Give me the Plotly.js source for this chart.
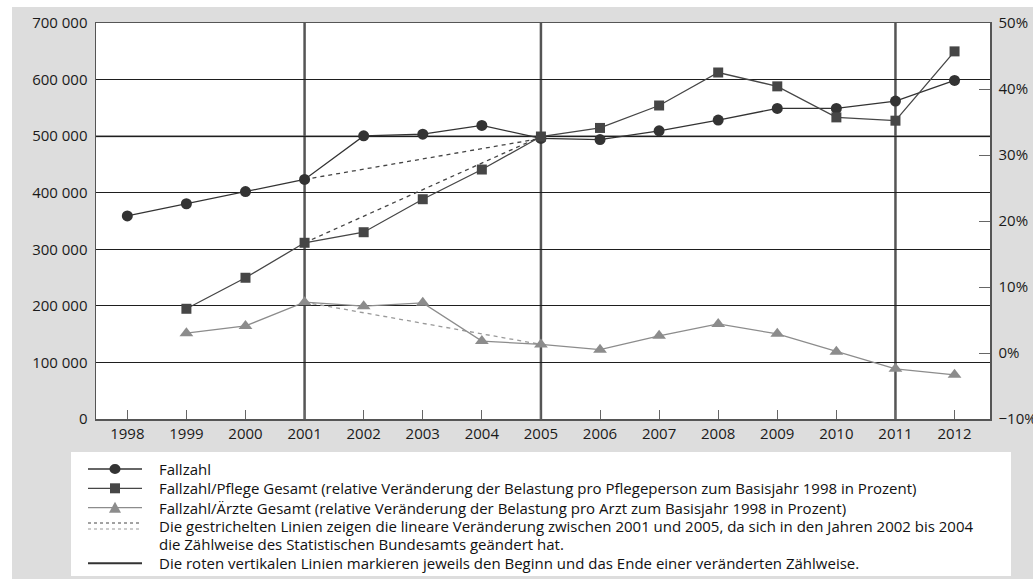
<!DOCTYPE html>
<html><head><meta charset="utf-8">
<script src="https://cdn.plot.ly/plotly-3.0.1.min.js"></script>
<style>html,body{margin:0;padding:0;background:#fff}</style>
</head><body><div id="chart" style="width:1033px;height:579px"></div>
<script>
// ---- data ----
const years = [1998,1999,2000,2001,2002,2003,2004,2005,2006,2007,2008,2009,2010,2011,2012];
const fallzahl = [359000,380500,402000,423500,500500,503500,519000,496000,494000,509500,528500,549000,549000,562000,598500];
const pctYears = [1999,2000,2001,2002,2003,2004,2005,2006,2007,2008,2009,2010,2011,2012];
const pflege = [6.7,11.4,16.7,18.3,23.3,27.8,32.8,34.1,37.5,42.5,40.4,35.7,35.2,45.7];
const aerzte = [3.0,4.1,7.7,7.1,7.6,1.8,1.3,0.5,2.6,4.4,2.9,0.2,-2.4,-3.3];
const breakYears = [2001,2005,2011];
const dashFrom = 2001, dashTo = 2005;
const highlightLevel = 500000;
const leftTickVals = [0,100000,200000,300000,400000,500000,600000,700000];
const leftTickText = ['0','100 000','200 000','300 000','400 000','500 000','600 000','700 000'];
const rightTickVals = [-10,0,10,20,30,40,50];
const rightTickText = ['\u221210%','0%','10%','20%','30%','40%','50%'];
const legendTexts = [
  'Fallzahl',
  'Fallzahl/Pflege Gesamt (relative Veränderung der Belastung pro Pflegeperson zum Basisjahr 1998 in Prozent)',
  'Fallzahl/Ärzte Gesamt (relative Veränderung der Belastung pro Arzt zum Basisjahr 1998 in Prozent)',
  'Die gestrichelten Linien zeigen die lineare Veränderung zwischen 2001 und 2005, da sich in den Jahren 2002 bis 2004',
  'die Zählweise des Statistischen Bundesamts geändert hat.',
  'Die roten vertikalen Linien markieren jeweils den Beginn und das Ende einer veränderten Zählweise.'
];

// ---- layout helpers ----
const W = 1033, H = 579, L = 96, R = 990, T = 23, B = 419;
const px = x => (x - L) / (R - L);
const py = y => (B - y) / (B - T);
const FONT = 'Open Sans, Liberation Sans, sans-serif';
const cCirc = '#333333', cSq = '#464646', cTri = '#8c8c8c';

function pick(xs, ys, a, b) { return [ys[xs.indexOf(a)], ys[xs.indexOf(b)]]; }

const traces = [
  {x:[dashFrom,dashTo], y:pick(years,fallzahl,dashFrom,dashTo), yaxis:'y', mode:'lines',
   line:{color:'#444', width:1.3, dash:'4px,4px'}, hoverinfo:'skip'},
  {x:[dashFrom,dashTo], y:pick(pctYears,pflege,dashFrom,dashTo), yaxis:'y2', mode:'lines',
   line:{color:'#444', width:1.3, dash:'4px,4px'}, hoverinfo:'skip'},
  {x:[dashFrom,dashTo], y:pick(pctYears,aerzte,dashFrom,dashTo), yaxis:'y2', mode:'lines',
   line:{color:'#999', width:1.3, dash:'4px,4px'}, hoverinfo:'skip'},
  {x:pctYears, y:aerzte, yaxis:'y2', mode:'lines+markers', name:'Fallzahl/Ärzte Gesamt',
   line:{color:cTri, width:1.3}, marker:{symbol:'triangle-up', size:12, color:cTri}},
  {x:pctYears, y:pflege, yaxis:'y2', mode:'lines+markers', name:'Fallzahl/Pflege Gesamt',
   line:{color:cSq, width:1.3}, marker:{symbol:'square', size:10, color:cSq}},
  {x:years, y:fallzahl, yaxis:'y', mode:'lines+markers', name:'Fallzahl',
   line:{color:cCirc, width:1.3}, marker:{symbol:'circle', size:11, color:cCirc}}
];

const shapes = [];
// white surroundings and legend box (gray paper background)
shapes.push({type:'rect', xref:'paper', yref:'paper', x0:px(0), x1:px(W), y0:py(0), y1:py(7), fillcolor:'#fff', line:{width:0}, layer:'below'});
shapes.push({type:'rect', xref:'paper', yref:'paper', x0:px(0), x1:px(12), y0:py(0), y1:py(H), fillcolor:'#fff', line:{width:0}, layer:'below'});
shapes.push({type:'rect', xref:'paper', yref:'paper', x0:px(71), x1:px(1011), y0:py(452), y1:py(576), fillcolor:'#fff', line:{width:0}, layer:'below'});
// highlighted 500 000 gridline
shapes.push({type:'line', xref:'paper', yref:'y', x0:0, x1:1, y0:highlightLevel, y1:highlightLevel, line:{color:'#7a7a7a', width:2}, layer:'between'});
// vertical break lines
breakYears.forEach(yr => shapes.push({type:'line', xref:'x', yref:'paper', x0:yr, x1:yr, y0:0, y1:1, line:{color:'#555', width:2.5}, layer:'between'}));

// legend symbols
const rows = [469, 488.3, 507.7, 526, 544.3, 563.3];
const sx0 = 88, sx1 = 142, sxm = 115;
function hline(y, color, width, dash) {
  shapes.push({type:'line', xref:'paper', yref:'paper', x0:px(sx0), x1:px(sx1), y0:py(y), y1:py(y), line:{color, width, dash}});
}
hline(rows[0], cCirc, 1.3); hline(rows[1], cSq, 1.3); hline(rows[2], cTri, 1.3);
hline(rows[3]-3, '#444', 1, '3px,3px'); hline(rows[3]+3, '#999', 1, '3px,3px');
hline(rows[5], '#333', 2);
shapes.push({type:'circle', xref:'paper', yref:'paper', xsizemode:'pixel', ysizemode:'pixel', xanchor:px(sxm), yanchor:py(rows[0]), x0:-5.5, x1:5.5, y0:-5, y1:5, fillcolor:cCirc, line:{width:0}});
shapes.push({type:'rect', xref:'paper', yref:'paper', xsizemode:'pixel', ysizemode:'pixel', xanchor:px(sxm), yanchor:py(rows[1]), x0:-5, x1:5, y0:-5, y1:5, fillcolor:cSq, line:{width:0}});
shapes.push({type:'path', xref:'paper', yref:'paper', xsizemode:'pixel', ysizemode:'pixel', xanchor:px(sxm), yanchor:py(rows[2]), path:'M -6 -5 L 6 -5 L 0 6 Z', fillcolor:cTri, line:{width:0}});

const annotations = legendTexts.map((t, i) => ({
  xref:'paper', yref:'paper', x:px(157), y:py(rows[i]), xanchor:'left', yanchor:'middle',
  text:t, showarrow:false, font:{family:FONT, size:15, color:'#111'}
}));

const layout = {
  width:W, height:H,
  margin:{l:L, r:W-R, t:T, b:H-B, pad:0},
  paper_bgcolor:'#dddddd', plot_bgcolor:'#ffffff',
  showlegend:false,
  font:{family:FONT, size:15, color:'#1a1a1a'},
  xaxis:{range:[1997.47, 2012.6], tickvals:years, ticktext:years.map(String),
    ticks:'inside', ticklen:9, tickcolor:'#666', tickwidth:1,
    showgrid:false, zeroline:false, showline:true, mirror:true, linecolor:'#555', linewidth:1.5,
    tickfont:{family:FONT, size:15, color:'#1a1a1a'}},
  yaxis:{range:[0,700000], tickvals:leftTickVals, ticktext:leftTickText, ticks:'',
    showgrid:true, gridcolor:'#1e1e1e', gridwidth:1, zeroline:false,
    showline:true, linecolor:'#555', linewidth:1.5, ticklabelstandoff:4,
    tickfont:{family:FONT, size:15, color:'#1a1a1a'}},
  yaxis2:{range:[-10,50], overlaying:'y', side:'right', tickvals:rightTickVals, ticktext:rightTickText,
    ticks:'inside', ticklen:11, tickcolor:'#666', tickwidth:1, showgrid:false, zeroline:false,
    showline:true, linecolor:'#555', linewidth:1.5, ticklabelstandoff:4,
    tickfont:{family:FONT, size:15, color:'#1a1a1a'}},
  shapes, annotations
};

Plotly.newPlot('chart', traces, layout, {displayModeBar:false, staticPlot:true});
</script></body></html>
